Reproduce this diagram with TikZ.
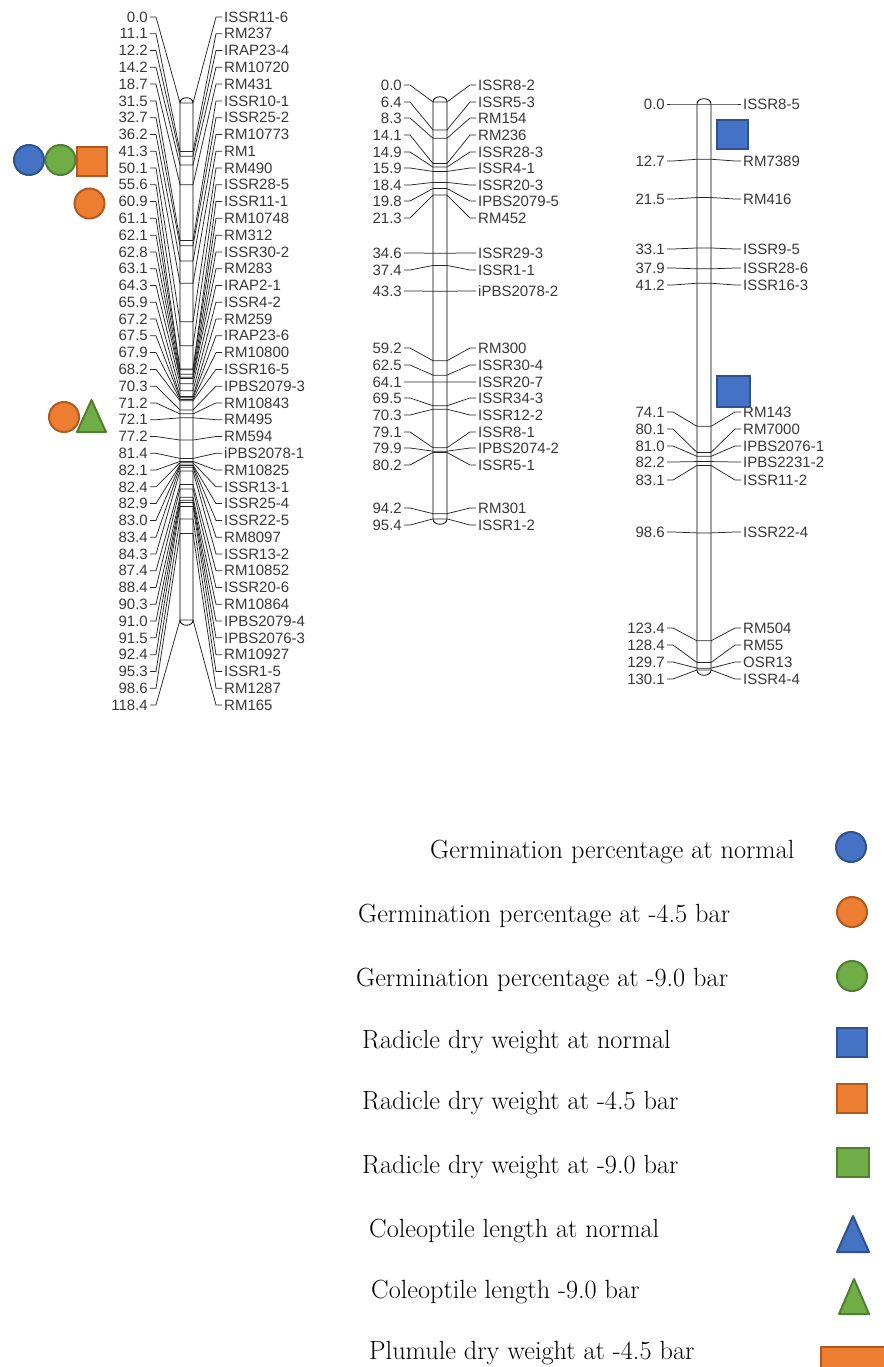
\documentclass[tikz,border=0pt]{standalone}
\usepackage{fontspec}
\newfontfamily\chrfont{Liberation Sans}
\definecolor{blueF}{HTML}{4472C4}
\definecolor{blueD}{HTML}{2F528F}
\definecolor{orangeF}{HTML}{ED7D31}
\definecolor{orangeD}{HTML}{AE5A21}
\definecolor{greenF}{HTML}{70AD47}
\definecolor{greenD}{HTML}{507E32}
\begin{document}
\begin{tikzpicture}[x=1pt,y=-1pt,
  num/.style={anchor=east,inner sep=0pt,font=\chrfont\fontsize{15}{16}\selectfont,text=black!78},
  mk/.style={anchor=west,inner sep=0pt,font=\chrfont\fontsize{15}{16}\selectfont,text=black!78},
  conn/.style={line width=0.75pt,black!85},
  chrbar/.style={draw=black,fill=white,line width=0.8pt},
  legtxt/.style={anchor=base west,inner sep=0pt,font=\fontsize{26.3}{30}\selectfont},
  sym/.style={line width=2pt,line join=round},
  circsym/.style={circle,minimum size=30pt,inner sep=0pt,line width=2pt},
  sqsym/.style={rectangle,minimum width=30pt,minimum height=29pt,inner sep=0pt,line width=2pt}
]
\useasboundingbox (0,0) rectangle (883,1367);

% ---------- chromosome bars ----------
\draw[chrbar] (180,103) -- (180,620) .. controls (180,627) and (193,627) .. (193,620) -- (193,103) .. controls (193,96) and (180,96) .. (180,103) -- cycle;
\draw[chrbar] (433,102) -- (433,519) .. controls (433,526) and (447,526) .. (447,519) -- (447,102) .. controls (447,95) and (433,95) .. (433,102) -- cycle;
\draw[chrbar] (697,104) -- (697,670) .. controls (697,677) and (711,677) .. (711,670) -- (711,104) .. controls (711,97) and (697,97) .. (697,104) -- cycle;

% ---------- chromosome 1 ----------
\foreach \cm/\nm [count=\i from 0] in {0.0/ISSR11-6, 11.1/RM237, 12.2/IRAP23-4, 14.2/RM10720, 18.7/RM431, 31.5/ISSR10-1, 32.7/ISSR25-2, 36.2/RM10773, 41.3/RM1, 50.1/RM490, 55.6/ISSR28-5, 60.9/ISSR11-1, 61.1/RM10748, 62.1/RM312, 62.8/ISSR30-2, 63.1/RM283, 64.3/IRAP2-1, 65.9/ISSR4-2, 67.2/RM259, 67.5/IRAP23-6, 67.9/RM10800, 68.2/ISSR16-5, 70.3/IPBS2079-3, 71.2/RM10843, 72.1/RM495, 77.2/RM594, 81.4/iPBS2078-1, 82.1/RM10825, 82.4/ISSR13-1, 82.9/ISSR25-4, 83.0/ISSR22-5, 83.4/RM8097, 84.3/ISSR13-2, 87.4/RM10852, 88.4/ISSR20-6, 90.3/RM10864, 91.0/IPBS2079-4, 91.5/IPBS2076-3, 92.4/RM10927, 95.3/ISSR1-5, 98.6/RM1287, 118.4/RM165}{
  \pgfmathsetmacro\ly{17+\i*16.78}
  \pgfmathsetmacro\my{103+\cm*4.366}
  \node[num] (c1l\i) at (148,\ly) {\cm};
  \node[mk] (c1r\i) at (224,\ly) {\nm};
  \draw[conn] ([xshift=2pt]c1l\i.east) -- ++(6,0) -- (180,\my) -- (193,\my) -- ([xshift=-8pt]c1r\i.west) -- ++(6,0);
}

% ---------- chromosome 2 ----------
\foreach \cm/\ly/\nm [count=\i] in {0.0/85/ISSR8-2, 6.4/102/ISSR5-3, 8.3/118/RM154, 14.1/135/RM236, 14.9/152/ISSR28-3, 15.9/168/ISSR4-1, 18.4/185/ISSR20-3, 19.8/201/IPBS2079-5, 21.3/218/RM452, 34.6/253/ISSR29-3, 37.4/270/ISSR1-1, 43.3/291/iPBS2078-2, 59.2/348/RM300, 62.5/365/ISSR30-4, 64.1/382/ISSR20-7, 69.5/398/ISSR34-3, 70.3/415/ISSR12-2, 79.1/432/ISSR8-1, 79.9/448/IPBS2074-2, 80.2/465/ISSR5-1, 94.2/508/RM301, 95.4/525/ISSR1-2}{
  \pgfmathsetmacro\my{102+\cm*4.37}
  \node[num] (c2l\i) at (402,\ly) {\cm};
  \node[mk] (c2r\i) at (478,\ly) {\nm};
  \draw[conn] ([xshift=2pt]c2l\i.east) -- ++(6,0) -- (433,\my) -- (447,\my) -- ([xshift=-8pt]c2r\i.west) -- ++(6,0);
}

% ---------- chromosome 3 ----------
\foreach \cm/\ly/\nm [count=\i] in {0.0/104/ISSR8-5, 12.7/161/RM7389, 21.5/199/RM416, 33.1/249/ISSR9-5, 37.9/268/ISSR28-6, 41.2/285/ISSR16-3, 74.1/412/RM143, 80.1/429/RM7000, 81.0/446/IPBS2076-1, 82.2/462/IPBS2231-2, 83.1/480/ISSR11-2, 98.6/532/ISSR22-4, 123.4/628/RM504, 128.4/645/RM55, 129.7/662/OSR13, 130.1/679/ISSR4-4}{
  \pgfmathsetmacro\my{104+\cm*4.35}
  \node[num] (c3l\i) at (665,\ly) {\cm};
  \node[mk] (c3r\i) at (743,\ly) {\nm};
  \draw[conn] ([xshift=2pt]c3l\i.east) -- ++(6,0) -- (697,\my) -- (711,\my) -- ([xshift=-8pt]c3r\i.west) -- ++(6,0);
}

% ---------- QTL symbols on the map ----------
\node[circsym,fill=blueF,draw=blueD] (q1) at (29,160) {};
\node[circsym,fill=greenF,draw=greenD] (q2) at (60.5,160) {};
\node[sqsym,fill=orangeF,draw=orangeD] (q3) at (91.5,161.5) {};
\node[circsym,fill=orangeF,draw=orangeD] (q4) at (89.5,203.5) {};
\node[circsym,fill=orangeF,draw=orangeD] (q5) at (64,417) {};
\draw[sym,fill=greenF,draw=greenD] (77,432) -- (106,432) -- (91.5,400) -- cycle;
\node[sqsym,minimum width=31pt,fill=blueF,draw=blueD] (q6) at (732.5,134.5) {};
\node[sqsym,minimum width=33pt,minimum height=31pt,fill=blueF,draw=blueD] (q7) at (733.5,391.5) {};

% ---------- legend ----------
\node[legtxt] (t1) at (430,858) {Germination percentage at normal};
\node[legtxt] (t2) at (358,922) {Germination percentage at -4.5 bar};
\node[legtxt] (t3) at (356,986) {Germination percentage at -9.0 bar};
\node[legtxt] (t4) at (362,1048) {Radicle dry weight at normal};
\node[legtxt] (t5) at (362,1109) {Radicle dry weight at -4.5 bar};
\node[legtxt] (t6) at (362,1173) {Radicle dry weight at -9.0 bar};
\node[legtxt] (t7) at (369,1237) {Coleoptile length at normal};
\node[legtxt] (t8) at (371,1298) {Coleoptile length -9.0 bar};
\node[legtxt] (t9) at (369,1359) {Plumule dry weight at -4.5 bar};

\node[circsym,fill=blueF,draw=blueD] (l1) at (851,847) {};
\node[circsym,fill=orangeF,draw=orangeD] (l2) at (852,912) {};
\node[circsym,fill=greenF,draw=greenD] (l3) at (852,976) {};
\node[sqsym,fill=blueF,draw=blueD] (l4) at (852,1042.5) {};
\node[sqsym,fill=orangeF,draw=orangeD] (l5) at (852,1098) {};
\node[sqsym,minimum width=32pt,fill=greenF,draw=greenD] (l6) at (853,1162) {};
\draw[sym,fill=blueF,draw=blueD] (837,1252) -- (869,1252) -- (853,1216) -- cycle;
\draw[sym,fill=greenF,draw=greenD] (839,1314) -- (869,1314) -- (854,1279) -- cycle;
\draw[sym,fill=orangeF,draw=orangeD] (821,1347) rectangle (886,1372);
\end{tikzpicture}
\end{document}
